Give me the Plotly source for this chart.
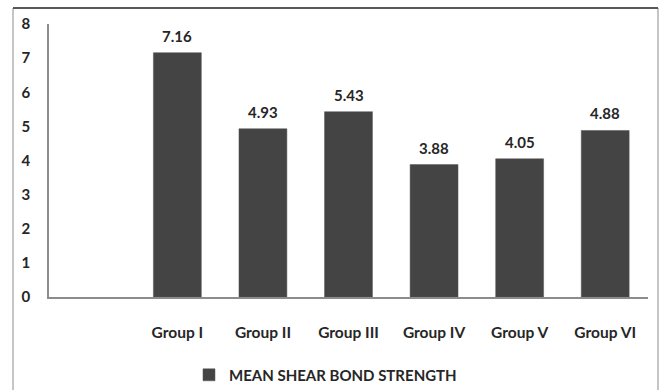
import plotly.graph_objects as go

categories = ["", "Group I", "Group II", "Group III", "Group IV", "Group V", "Group VI"]
values = [None, 7.16, 4.93, 5.43, 3.88, 4.05, 4.88]
labels = ["", "7.16", "4.93", "5.43", "3.88", "4.05", "4.88"]
series_name = "MEAN SHEAR BOND STRENGTH"
y_ticks = [0, 1, 2, 3, 4, 5, 6, 7, 8]

FONT = "Lato"
TXT = "#262626"

fig = go.Figure()
fig.add_trace(go.Bar(
    x=categories, y=values, name=series_name,
    marker=dict(color="#444444", line=dict(color="#555555", width=0.5)),
    showlegend=True,
))

for c, v, t in zip(categories, values, labels):
    if v is None:
        continue
    fig.add_annotation(x=c, y=v, text=t, showarrow=False, yshift=17,
                       font=dict(family=FONT, size=15, color=TXT, weight="bold"))

# outer frame
fig.add_shape(type="rect", xref="paper", yref="paper",
              x0=-0.0601, x1=1.0167, y0=-0.5, y1=1.0586,
              line=dict(color="#8c8c8c", width=1), layer="below")
fig.add_shape(type="line", xref="paper", yref="paper",
              x0=-0.0601, x1=1.0167, y0=1.0586, y1=1.0586,
              line=dict(color="#333333", width=1.5))

fig.update_layout(
    width=659, height=390,
    margin=dict(l=49, r=11, t=24, b=93, autoexpand=False),
    paper_bgcolor="white", plot_bgcolor="white",
    bargap=0.44,
    font=dict(family=FONT, color=TXT),
    legend=dict(orientation="h", x=0.2337, xanchor="left", y=-0.286, yanchor="middle",
                font=dict(family=FONT, size=15, color=TXT, weight="bold"),
                itemwidth=30),
    xaxis=dict(type="category", categoryorder="array", categoryarray=categories,
               showline=True, linecolor="#8c8c8c", linewidth=1.5,
               ticks="", ticklabelstandoff=21,
               tickfont=dict(family=FONT, size=15.5, color=TXT, weight="bold"),
               showgrid=False, zeroline=False),
    yaxis=dict(range=[0, 8], tickvals=y_ticks, showline=True, linecolor="#8c8c8c", linewidth=1.5,
               ticks="", ticklabelstandoff=14,
               tickfont=dict(family=FONT, size=15, color=TXT, weight="bold"),
               showgrid=False, zeroline=False),
)

fig.write_html("out.html")
